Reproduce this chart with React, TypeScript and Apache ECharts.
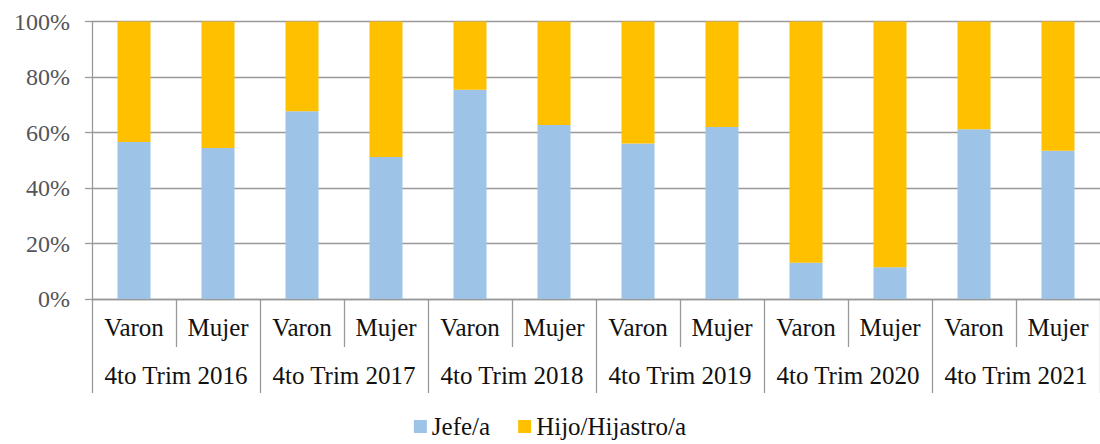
import React, { useEffect, useRef } from "react";
import * as echarts from "echarts";

const subCategories = [
  "Varon", "Mujer", "Varon", "Mujer", "Varon", "Mujer",
  "Varon", "Mujer", "Varon", "Mujer", "Varon", "Mujer",
];
const groups = [
  "4to Trim 2016", "4to Trim 2017", "4to Trim 2018",
  "4to Trim 2019", "4to Trim 2020", "4to Trim 2021",
];
const jefe = [56.6, 54.4, 67.7, 51.2, 75.4, 62.7, 56.0, 62.0, 13.1, 11.4, 61.2, 53.4];
const hijo = jefe.map((v) => +(100 - v).toFixed(1));
const yTicks = [0, 20, 40, 60, 80, 100];

export default function App() {
  const ref = useRef<HTMLDivElement>(null);
  useEffect(() => {
    const chart = echarts.init(ref.current!, null, { renderer: "svg" });
    chart.setOption({
      animation: false,
      grid: { left: 92, right: 0, top: 21.5, bottom: 145 },
      legend: {
        bottom: 0,
        left: "center",
        itemWidth: 13,
        itemHeight: 13,
        itemGap: 28,
        icon: "rect",
        textStyle: { fontFamily: "Liberation Serif", fontSize: 25, color: "#111" },
        data: ["Jefe/a", "Hijo/Hijastro/a"],
      },
      xAxis: [
        {
          type: "category",
          data: subCategories,
          position: "bottom",
          axisLine: { lineStyle: { color: "#999", width: 1.3 } },
          axisTick: { show: true, length: 48, interval: 0, lineStyle: { color: "#999", width: 1.3 } },
          axisLabel: {
            interval: 0,
            margin: 16,
            fontFamily: "Liberation Serif",
            fontSize: 25,
            formatter: (v: string) => "{s|" + v + "}",
            rich: { s: { fontFamily: "Liberation Serif", fontSize: 25, color: "#111" } },
          },
        },
        {
          type: "category",
          data: groups,
          position: "bottom",
          offset: 48,
          axisLine: { show: false },
          axisTick: { show: true, length: 46, interval: 0, lineStyle: { color: "#999", width: 1.3 } },
          axisLabel: {
            interval: 0,
            margin: 16,
            fontFamily: "Liberation Serif",
            fontSize: 25,
            formatter: (v: string) => "{s|" + v + "}",
            rich: { s: { fontFamily: "Liberation Serif", fontSize: 25, color: "#111" } },
          },
        },
      ],
      yAxis: {
        type: "value",
        min: 0,
        max: 100,
        interval: 20,
        axisLine: { show: true, lineStyle: { color: "#999", width: 1.3 } },
        axisTick: { show: true, length: 7, lineStyle: { color: "#999", width: 1.3 } },
        splitLine: { show: true, lineStyle: { color: "#999", width: 1.3 } },
        axisLabel: {
          fontFamily: "Liberation Serif",
          fontSize: 24,
          margin: 22,
          formatter: (v: number) => (yTicks.includes(v) ? v + "%" : ""),
        },
      },
      series: [
        {
          name: "Jefe/a",
          type: "bar",
          stack: "total",
          barWidth: 33,
          data: jefe,
          itemStyle: { color: "#9DC3E6" },
        },
        {
          name: "Hijo/Hijastro/a",
          type: "bar",
          stack: "total",
          barWidth: 33,
          data: hijo,
          itemStyle: { color: "#FFC000" },
        },
      ],
    });
    return () => chart.dispose();
  }, []);
  return (
    <div
      ref={ref}
      style={{ position: "absolute", left: 0, top: 0, width: 1100, height: 444 }}
    />
  );
}
